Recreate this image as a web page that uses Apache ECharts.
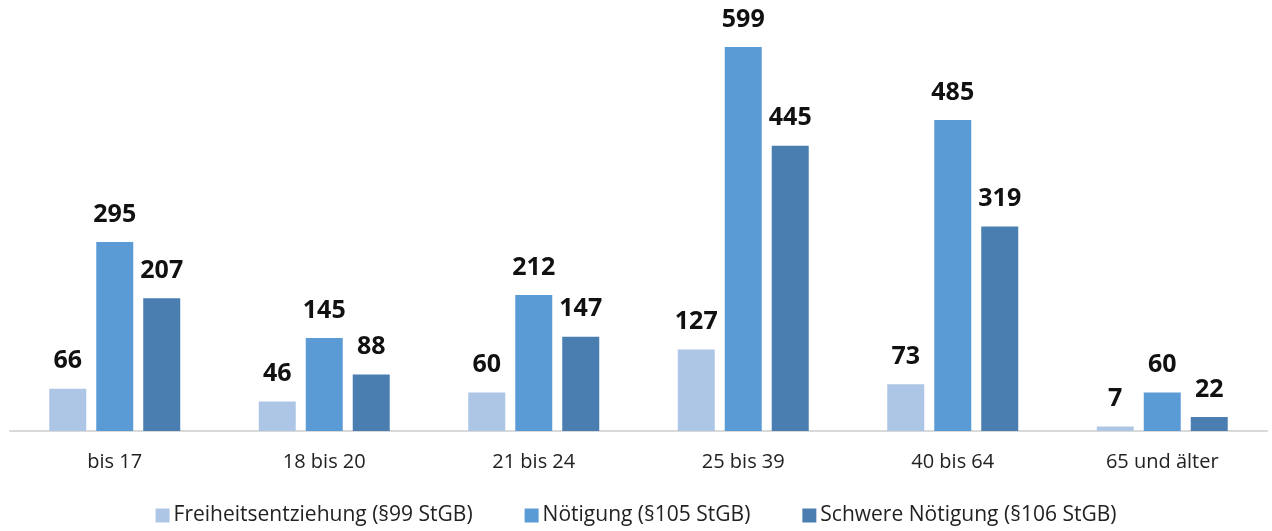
<!DOCTYPE html>
<html><head><meta charset="utf-8">
<script src="https://cdn.jsdelivr.net/npm/echarts@6/dist/echarts.min.js"></script>
<style>html,body{margin:0;padding:0;background:#fff}#c{width:1272px;height:531px}</style>
</head><body><div id="c"></div>
<script>
const categories = ['bis 17', '18 bis 20', '21 bis 24', '25 bis 39', '40 bis 64', '65 und älter'];
const seriesNames = ['Freiheitsentziehung (§99 StGB)', 'Nötigung (§105 StGB)', 'Schwere Nötigung (§106 StGB)'];
const freiheit = [66, 46, 60, 127, 73, 7];
const noetigung = [295, 145, 212, 599, 485, 60];
const schwer = [207, 88, 147, 445, 319, 22];
const colors = ['#adc6e6', '#5b9bd5', '#4a7eb1'];

const font = '"Open Sans", "Noto Sans", sans-serif';
const mk = (name, data, color) => ({
  name, type: 'bar', data, barWidth: 37, barGap: '27%',
  itemStyle: { color },
  label: { show: true, position: 'top', distance: 15, fontFamily: font, fontWeight: 'bold', fontSize: 25, color: '#111' }
});
const chart = echarts.init(document.getElementById('c'));
chart.setOption({
  animation: false,
  grid: { left: 10, right: 5, top: 47, bottom: 100, containLabel: false },
  xAxis: {
    type: 'category', data: categories,
    axisLine: { lineStyle: { color: '#d9d9d9', width: 2 } },
    axisTick: { show: false },
    axisLabel: { fontFamily: font, fontSize: 20, color: '#222', margin: 21 }
  },
  yAxis: { type: 'value', min: 0, max: 599, show: false, splitLine: { show: false } },
  legend: {
    bottom: 0, left: 'center', itemWidth: 14, itemHeight: 14, itemGap: 52,
    icon: 'rect',
    textStyle: { fontFamily: font, fontSize: 21, color: '#222', padding: [0, 0, 0, -1] }
  },
  series: [mk(seriesNames[0], freiheit, colors[0]), mk(seriesNames[1], noetigung, colors[1]), mk(seriesNames[2], schwer, colors[2])]
});
</script></body></html>
